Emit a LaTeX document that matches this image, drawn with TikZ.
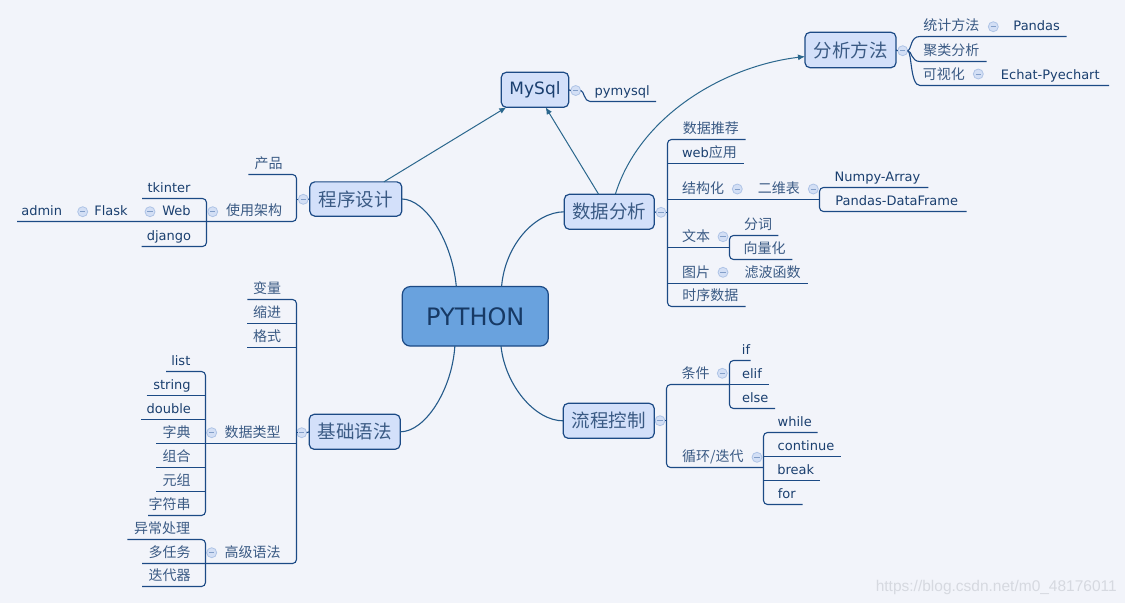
\documentclass[tikz,border=0pt]{standalone}
\usepackage{fontspec}
\setmainfont{DejaVu Sans}
\newfontfamily\cjk{Noto Sans CJK SC}
\newfontfamily\wmfont{Liberation Sans}
\usetikzlibrary{arrows.meta,calc}
\definecolor{bgc}{HTML}{F2F4FA}
\definecolor{lnc}{HTML}{1C4A85}
\definecolor{conc}{HTML}{245A8A}
\definecolor{txc}{HTML}{1A3F6F}
\definecolor{cjc}{HTML}{3A5A84}
\definecolor{topf}{HTML}{D3E0FA}
\definecolor{cenf}{HTML}{69A2DE}
\definecolor{cirf}{HTML}{D3DFF5}
\definecolor{cirb}{HTML}{AFC4E6}
\definecolor{arc}{HTML}{2B678D}
\definecolor{wmc}{HTML}{D6D9E0}
\newcommand\zh[1]{{\cjk\fontsize{14}{16}\selectfont\color{cjc}#1}}
\tikzset{
 ul/.style={draw=lnc, line width=1.1pt},
 br/.style={ul, rounded corners=4pt},
 lt/.style={inner sep=0pt, outer sep=0pt, anchor=base, text=txc, font=\fontsize{13}{15}\selectfont},
 ct/.style={lt, text=cjc, font=\cjk\fontsize{14}{16}\selectfont},
 topic/.style={draw=lnc, fill=topf, rounded corners=5pt, line width=1.2pt, minimum width=91pt, minimum height=35pt, inner sep=0pt, outer sep=0pt, text=cjc, font=\cjk\fontsize{18.5}{20}\selectfont},
 centre/.style={draw=lnc, fill=cenf, rounded corners=8pt, line width=1.2pt, minimum width=146pt, minimum height=59.5pt, inner sep=0pt, outer sep=0pt, text=txc!90!black, font=\fontsize{24}{28}\selectfont},
 col/.style={circle, draw=cirb, fill=cirf, minimum size=10pt, inner sep=0pt, outer sep=0pt, line width=0.8pt,
   path picture={\draw[cirb!70!lnc, line width=0.8pt] ([xshift=-2.6pt]path picture bounding box.center) -- ([xshift=2.6pt]path picture bounding box.center);}},
 arr/.style={draw=arc, line width=1pt, -{Latex[length=7pt,width=6pt]}},
 con/.style={draw=conc, line width=1.1pt},
}
\begin{document}
\begin{tikzpicture}[x=1pt,y=-1pt]
\fill[bgc] (0,0) rectangle (1125,603);
\useasboundingbox (0,0) rectangle (1125,603);

% topics
\node[centre] (cen) at (475.3,316.3) {PYTHON};
\node[topic, minimum width=92pt, minimum height=34.3pt] (prog) at (355.8,199) {程序设计};
\node[topic] (basic) at (354.7,431.8) {基础语法};
\node[topic, minimum width=90pt] (ana) at (609.3,211.8) {数据分析};
\node[topic] (flow) at (608.7,420.8) {流程控制};
\node[topic, minimum width=67.4pt, text=txc, font=\fontsize{17}{20}\selectfont] (mysql) at (535,89.8) {MySql};
\node[topic, minimum height=35.4pt] (meth) at (850.5,50) {分析方法};

% centre connectors
\coordinate (ctl) at ($(cen.north west)!0.37!(cen.north east)$);
\coordinate (ctr) at ($(cen.north west)!0.68!(cen.north east)$);
\coordinate (cbl) at ($(cen.south west)!0.36!(cen.south east)$);
\coordinate (cbr) at ($(cen.south west)!0.676!(cen.south east)$);
\draw[con] (prog.east) .. controls (425,199) and (452,240) .. (ctl);
\draw[con] (ana.west) .. controls (535,212) and (505,245) .. (ctr);
\draw[con] (basic.east) .. controls (425,432) and (452,390) .. (cbl);
\draw[con] (flow.west) .. controls (535,421) and (505,385) .. (cbr);

% arrows
\draw[arr] (prog) -- (mysql);
\draw[arr] (ana) -- (mysql);
\draw[arr] ([xshift=6pt]ana.north) .. controls (640,115) and (725,66) .. ([yshift=-6.5pt]meth.west);

% ---------- MySql ----------
\node[col] (cms) at (575.7,90.5) {};
\draw[ul] (mysql.east) -- (cms.west);
\draw[ul] (cms.east) .. controls (584,90.5) and (584,101.5) .. (590,101.5) -- (656,101.5);
\node[lt] (pymysql) at (622.2,101.5-6) {pymysql};

% ---------- 分析方法 ----------
\node[col] (cme) at (902.7,50.7) {};
\draw[ul] (meth.east) -- (cme.west);
\draw[ul] (cme.east) .. controls (912,49) and (910,36.5) .. (920,36.5) -- (1066.7,36.5);
\draw[ul] (cme.east) .. controls (912,51) and (911,61.5) .. (920,61.5) -- (986.7,61.5);
\draw[ul] (cme.east) .. controls (912,52) and (910,85.5) .. (920,85.5) -- (1109,85.5);
\node[ct] (tjff) at (951.3,36.5-6) {统计方法};
\node[col] (ctj) at (993.3,26.7) {};
\node[lt] (pandas) at (1036.7,36.5-6) {Pandas};
\node[ct] (jlfx) at (951.3,61.5-6) {聚类分析};
\node[ct] (ksh) at (943.8,85.5-6) {可视化};
\node[col] (cks) at (978.3,74) {};
\node[lt] (echat) at (1050.3,85.5-6) {Echat-Pyechart};

% ---------- 程序设计 ----------
\node[col] (cpr) at (303.3,199.3) {};
\draw[ul] (prog.west) -- (cpr.east);
\draw[ul] (cpr.west) -- (296.5,199.3);
\draw[br] (248.3,174.5) -- (296.5,174.5) -- (296.5,221.5) -- (17,221.5);
\draw[br] (142,198.5) -- (206.5,198.5) -- (206.5,246.5) -- (141.7,246.5);
\node[ct] (chanpin) at (268.5,174.5-6) {产品};
\node[ct] (syjg) at (254,221.5-6) {使用架构};
\node[col] (csy) at (212.7,211.7) {};
\node[lt] (tkinter) at (169,198.5-6) {tkinter};
\node[lt] (web) at (176.5,221.5-6) {Web};
\node[col] (cweb) at (150,211.7) {};
\node[lt] (django) at (169,246.5-6) {django};
\node[lt] (flask) at (111,221.5-6) {Flask};
\node[col] (cfl) at (82.7,211.7) {};
\node[lt] (admin) at (41.7,221.5-6) {admin};

% ---------- 基础语法 ----------
\node[col] (cba) at (301.7,432.7) {};
\draw[ul] (basic.west) -- (cba.east);
\draw[ul] (cba.west) -- (296.5,432.7);
\draw[br] (247.3,299.5) -- (296.5,299.5) -- (296.5,563.5) -- (142,563.5);
\draw[ul] (247.3,323.5) -- (296.5,323.5);
\draw[ul] (247.3,347.5) -- (296.5,347.5);
\draw[ul] (156,443.5) -- (296.5,443.5);
\node[ct] (bl) at (267.2,299.5-6) {变量};
\node[ct] (sj) at (267.2,323.5-6) {缩进};
\node[ct] (gs) at (267.2,347.5-6) {格式};
\node[ct] (sjlx) at (252.5,443.5-6) {数据类型};
\node[col] (csj) at (211.7,432.7) {};
\node[ct] (gjyf) at (252.5,563.5-6) {高级语法};
\node[col] (cgj) at (211.7,552.7) {};
% 数据类型 children
\draw[br] (166,371.5) -- (205.5,371.5) -- (205.5,515.5) -- (148,515.5);
\draw[ul] (146.7,395.5) -- (205.5,395.5);
\draw[ul] (141,419.5) -- (205.5,419.5);
\draw[ul] (156,467.5) -- (205.5,467.5);
\draw[ul] (156,491.5) -- (205.5,491.5);
\node[lt] (list) at (180.8,371.5-6) {list};
\node[lt] (string) at (172,395.5-6) {string};
\node[lt] (double) at (168.7,419.5-6) {double};
\node[ct] (zd) at (176.5,443.5-6) {字典};
\node[ct] (zh) at (176.5,467.5-6) {组合};
\node[ct] (yz) at (176.5,491.5-6) {元组};
\node[ct] (zfc) at (169.5,515.5-6) {字符串};
% 高级语法 children
\draw[br] (127.3,539.5) -- (205.5,539.5) -- (205.5,586.5) -- (142,586.5);
\node[ct] (yccl) at (162,539.5-6) {异常处理};
\node[ct] (drw) at (169.5,563.5-6) {多任务};
\node[ct] (ddq) at (169.5,586.5-6) {迭代器};

% ---------- 数据分析 ----------
\node[col] (cda) at (661,212.3) {};
\draw[ul] (ana.east) -- (cda.west);
\draw[ul] (cda.east) -- (667.5,212.3);
\draw[br] (745.7,139.5) -- (667.5,139.5) -- (667.5,306.5) -- (745.7,306.5);
\draw[ul] (667.5,163.5) -- (744,163.5);
\draw[ul] (667.5,199.5) -- (819.5,199.5);
\draw[ul] (667.5,247.5) -- (729.5,247.5);
\draw[ul] (667.5,283.5) -- (808,283.5);
\node[ct] (sjtj) at (710.8,139.5-6) {数据推荐};
\node[lt] (webyy) at (709.5,163.5-6) {web\zh{应用}};
\node[ct] (jgh) at (703,199.5-6) {结构化};
\node[col] (cjg) at (737.3,189) {};
\node[ct] (ewb) at (778.8,199.5-6) {二维表};
\node[col] (cew) at (813.3,189) {};
\draw[br] (928.3,187.5) -- (819.5,187.5) -- (819.5,211.5) -- (966.7,211.5);
\node[lt] (numpy) at (877.5,187.5-6) {Numpy-Array};
\node[lt] (pdf) at (896.7,211.5-6) {Pandas-DataFrame};
\node[ct] (wb) at (696,247.5-6) {文本};
\node[col] (cwb) at (723,236.7) {};
\draw[br] (778.3,235.5) -- (729.5,235.5) -- (729.5,259.5) -- (792.3,259.5);
\node[ct] (fc) at (758,235.5-6) {分词};
\node[ct] (xlh) at (764.5,259.5-6) {向量化};
\node[ct] (tp) at (696,283.5-6) {图片};
\node[col] (ctp) at (723,272.3) {};
\node[ct] (lbhs) at (772.5,283.5-6) {滤波函数};
\node[ct] (sxsj) at (710.3,306.5-6) {时序数据};

% ---------- 流程控制 ----------
\node[col] (cfw) at (660,420.7) {};
\draw[ul] (flow.east) -- (cfw.west);
\draw[ul] (cfw.east) -- (666.5,420.7);
\draw[br] (729.5,384.5) -- (666.5,384.5) -- (666.5,467.5) -- (763.5,467.5);
\node[ct] (tj) at (695.5,384.5-6) {条件};
\node[col] (ctjj) at (722.3,373.3) {};
\draw[br] (750.7,360.5) -- (729.5,360.5) -- (729.5,408.5) -- (775,408.5);
\draw[ul] (729.5,384.5) -- (769.3,384.5);
\node[lt] (if) at (746,360.5-6) {if};
\node[lt] (elif) at (752,384.5-6) {elif};
\node[lt] (else) at (755.3,408.5-6) {else};
\node[ct] (xh) at (712.8,467.5-6) {循环/迭代};
\node[col] (cxh) at (757,457.3) {};
\draw[br] (817.7,432.5) -- (763.5,432.5) -- (763.5,504.5) -- (802.7,504.5);
\draw[ul] (763.5,456.5) -- (841,456.5);
\draw[ul] (763.5,480.5) -- (820.3,480.5);
\node[lt] (while) at (794.7,432.5-6) {while};
\node[lt] (continue) at (806,456.5-6) {continue};
\node[lt] (break) at (795.8,480.5-6) {break};
\node[lt] (for) at (786.8,504.5-6) {for};

% watermark
\node[inner sep=0pt, anchor=base east, text=wmc, font=\wmfont\fontsize{15.5}{18}\selectfont] (wm) at (1117,591.5) {https://blog.csdn.net/m0\_48176011};
\end{tikzpicture}
\end{document}
